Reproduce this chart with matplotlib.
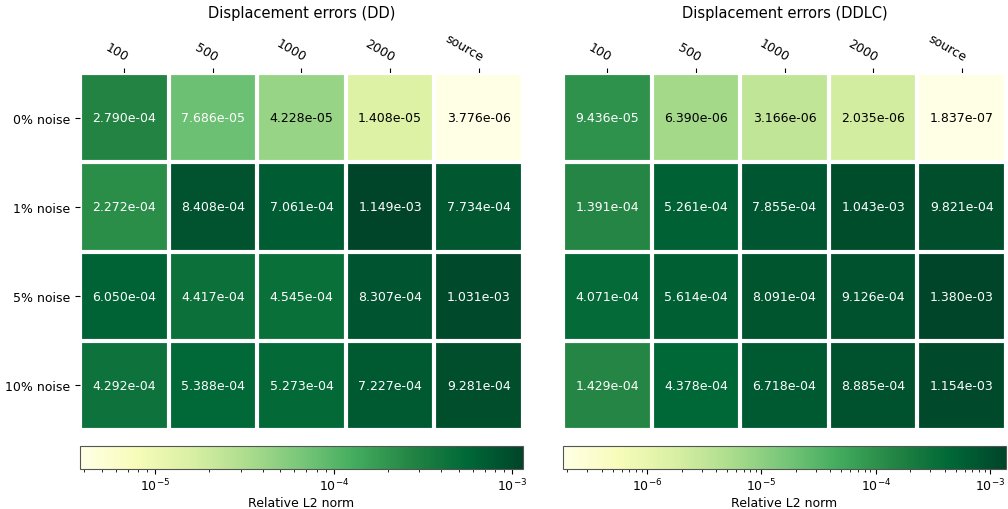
import numpy as np
import matplotlib
import matplotlib.pyplot as plt
from matplotlib.colors import LogNorm

rows = ["0% noise", "1% noise", "5% noise", "10% noise"]
cols = ["100", "500", "1000", "2000", "source"]

dd = np.array([
    [2.790e-04, 7.686e-05, 4.228e-05, 1.408e-05, 3.776e-06],
    [2.272e-04, 8.408e-04, 7.061e-04, 1.149e-03, 7.734e-04],
    [6.050e-04, 4.417e-04, 4.545e-04, 8.307e-04, 1.031e-03],
    [4.292e-04, 5.388e-04, 5.273e-04, 7.227e-04, 9.281e-04],
])
ddlc = np.array([
    [9.436e-05, 6.390e-06, 3.166e-06, 2.035e-06, 1.837e-07],
    [1.391e-04, 5.261e-04, 7.855e-04, 1.043e-03, 9.821e-04],
    [4.071e-04, 5.614e-04, 8.091e-04, 9.126e-04, 1.380e-03],
    [1.429e-04, 4.378e-04, 6.718e-04, 8.885e-04, 1.154e-03],
])
titles = ["Displacement errors (DD)", "Displacement errors (DDLC)"]

W, H = 1008, 510
fig = plt.figure(figsize=(W / 100, H / 100), dpi=100)


def heatmap(ax, cax, data, title, ylabels):
    norm = LogNorm(vmin=data.min(), vmax=data.max())
    im = ax.imshow(data, cmap="YlGn", norm=norm, aspect="auto")
    cb = fig.colorbar(im, cax=cax, orientation="horizontal")
    cb.set_label("Relative L2 norm", fontsize=9, labelpad=2)
    cb.outline.set_edgecolor("#555555")
    cb.ax.tick_params(which="major", labelsize=9, length=3.5, pad=2)
    cb.ax.tick_params(which="minor", length=2)

    ax.set_xticks(np.arange(len(cols)), labels=cols, fontsize=9)
    if ylabels:
        ax.set_yticks(np.arange(len(rows)), labels=rows, fontsize=9)
    else:
        ax.set_yticks([])
    ax.tick_params(top=True, bottom=False, labeltop=True, labelbottom=False)
    plt.setp(ax.get_xticklabels(), rotation=-30, ha="right", rotation_mode="anchor")
    for s in ax.spines.values():
        s.set_visible(False)
    ax.set_xticks(np.arange(data.shape[1] + 1) - .5, minor=True)
    ax.set_yticks(np.arange(data.shape[0] + 1) - .5, minor=True)
    ax.grid(which="minor", color="w", linestyle="-", linewidth=3)
    ax.tick_params(which="minor", bottom=False, left=False, top=False)
    ax.set_title(title, fontsize=10.5, pad=10)

    thr = 0.5
    for i in range(data.shape[0]):
        for j in range(data.shape[1]):
            c = "white" if norm(data[i, j]) > thr else "black"
            ax.text(j, i, f"{data[i, j]:.3e}", ha="center", va="center", color=c, fontsize=9)


lefts = [80, 563]
for k, data in enumerate([dd, ddlc]):
    ax = fig.add_axes([lefts[k] / W, 1 - 431 / H, 443 / W, 357 / H])
    cax = fig.add_axes([lefts[k] / W, 1 - 470 / H, 443 / W, 23 / H])
    heatmap(ax, cax, data, titles[k], k == 0)

fig.savefig("out.png", dpi=100)
